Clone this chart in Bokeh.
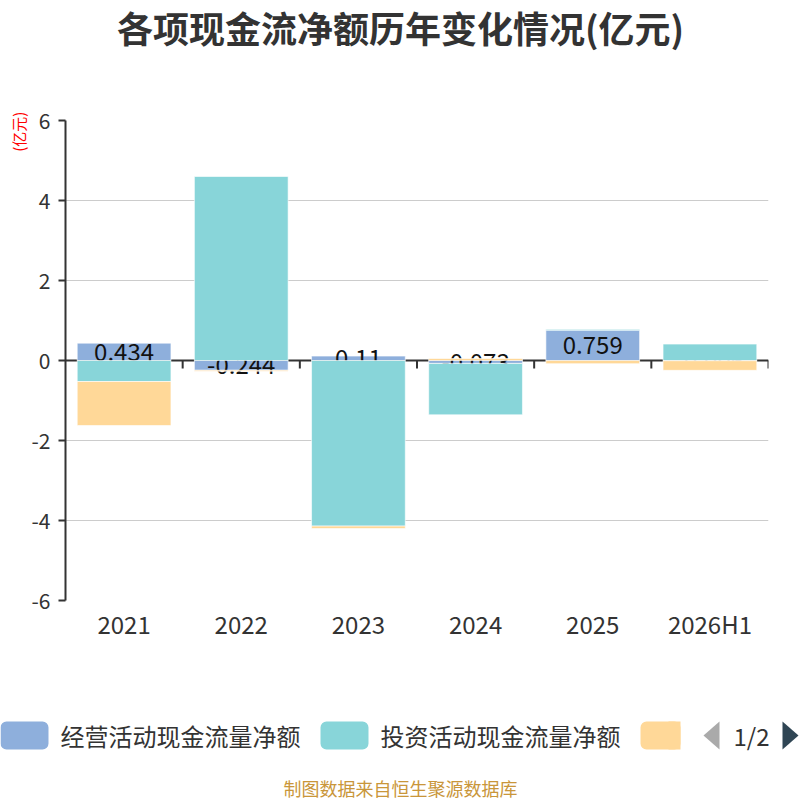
import numpy as np
from bokeh.plotting import figure
from bokeh.models import FactorRange, Range1d, FixedTicker
from bokeh.embed import file_html
from bokeh.resources import INLINE
from bokeh.core.properties import value

title_text = "各项现金流净额历年变化情况(亿元)"
unit_text = "(亿元)"
source_text = "制图数据来自恒生聚源数据库"
categories = ["2021", "2022", "2023", "2024", "2025", "2026H1"]
series_names = ["经营活动现金流量净额", "投资活动现金流量净额", "筹资活动现金流量净额"]
operating = [0.434, -0.244, 0.11, -0.073, 0.759, -0.006]
investing = [-0.525, 4.6, -4.14, -1.285, 0.02, 0.41]
financing = [-1.1, -0.025, -0.06, 0.05, -0.08, -0.24]
y_ticks = [-6, -4, -2, 0, 2, 4, 6]
colors = ["#8EAFDC", "#88D5D9", "#FFD898"]

FONT = "Noto Sans CJK SC"
W = 800

# same-sign stacking
series = [np.array(operating), np.array(investing), np.array(financing)]
pos = np.zeros(len(categories))
neg = np.zeros(len(categories))
stacks = []
for s in series:
    bottom = np.where(s >= 0, pos, neg)
    top = bottom + s
    pos = np.where(s >= 0, top, pos)
    neg = np.where(s < 0, top, neg)
    stacks.append((bottom, top))

# ---- title figure
ft = figure(width=W, height=60, x_range=Range1d(0, W), y_range=Range1d(60, 0),
            output_backend="svg", toolbar_location=None, min_border=0)
ft.axis.visible = False
ft.grid.visible = False
ft.outline_line_color = None
ft.text(x=[400], y=[26], text=[title_text], text_font=value(FONT), text_font_style="bold",
        text_font_size="36px", text_color="#333333", text_align="center", text_baseline="middle")

# ---- main chart
p = figure(width=W, height=588, x_range=FactorRange(*categories), y_range=Range1d(-6, 6),
           output_backend="svg", toolbar_location=None,
           min_border_left=65, min_border_right=32, min_border_top=60, min_border_bottom=48)
p.outline_line_color = None
p.xgrid.visible = False
p.ygrid.grid_line_color = "#cccccc"
p.ygrid.grid_line_width = 1
p.yaxis.ticker = FixedTicker(ticks=y_ticks)
p.yaxis.major_label_overrides = {t: str(t) for t in y_ticks}
p.yaxis.axis_line_color = "#333333"
p.yaxis.axis_line_width = 2
p.yaxis.major_tick_line_color = "#333333"
p.yaxis.major_tick_line_width = 2
p.yaxis.major_tick_out = 7
p.yaxis.major_tick_in = 0
p.yaxis.minor_tick_line_color = None
p.yaxis.major_label_text_font = FONT
p.yaxis.major_label_text_font_size = "21px"
p.yaxis.major_label_text_color = "#333333"
p.yaxis.major_label_standoff = 8
p.yaxis.axis_label = unit_text + "\u3000\u2002"
p.yaxis.axis_label_text_color = "red"
p.yaxis.axis_label_text_font = FONT
p.yaxis.axis_label_text_font_size = "15px"
p.yaxis.axis_label_text_font_style = "normal"
p.yaxis.axis_label_standoff = 0
p.yaxis.axis_label_align = "end"
p.xaxis.axis_line_color = None
p.xaxis.major_tick_line_color = None
p.xaxis.major_tick_out = 0
p.xaxis.major_tick_in = 0
p.xaxis.minor_tick_line_color = None
p.xaxis.major_label_text_font = FONT
p.xaxis.major_label_text_font_size = "24px"
p.xaxis.major_label_text_color = "#333333"
p.xaxis.major_label_standoff = 5

n = len(categories)
# zero axis line with boundary ticks
p.segment(x0=[0], x1=[n], y0=[0], y1=[0], line_color="#333333", line_width=2)
bx = list(np.arange(1, n + 1))
p.segment(x0=bx, x1=bx, y0=[0] * n, y1=[-0.2] * n, line_color="#333333", line_width=2)

b0, t0 = stacks[0]
p.vbar(x=categories, bottom=b0, top=t0, width=0.8, fill_color=colors[0],
       line_color="white", line_alpha=0.6, line_width=1)
p.text(x=categories, y=(b0 + t0) / 2, text=[str(v) for v in operating],
       text_font=value(FONT), text_font_size="24px", text_color="#111111",
       text_align="center", text_baseline="middle")
for (b, t), c in zip(stacks[1:], colors[1:]):
    p.vbar(x=categories, bottom=b, top=t, width=0.8, fill_color=c,
           line_color="white", line_alpha=0.6, line_width=1)

# ---- legend figure
fl = figure(width=W, height=152, x_range=Range1d(0, W), y_range=Range1d(152, 0),
            output_backend="svg", toolbar_location=None, min_border=0)
fl.axis.visible = False
fl.grid.visible = False
fl.outline_line_color = None
fl.quad(left=[0, 320, 640], right=[48, 368, 680], top=[73, 73, 73], bottom=[101, 101, 101],
        fill_color=colors, line_color=None, border_radius=6)
fl.quad(left=[668], right=[680], top=[73], bottom=[101], fill_color=colors[2], line_color=None)
fl.text(x=[60, 380], y=[87, 87], text=series_names[:2], text_font=value(FONT),
        text_font_size="24px", text_color="#333333", text_align="left", text_baseline="middle")
fl.patch(x=[719, 703, 719], y=[73, 87, 101], fill_color="#aaaaaa", line_color=None)
fl.text(x=[751], y=[87], text=["1/2"], text_font=value(FONT), text_font_size="24px",
        text_color="#333333", text_align="center", text_baseline="middle")
fl.patch(x=[782, 798, 782], y=[73, 87, 101], fill_color="#2f4554", line_color=None)
fl.text(x=[400], y=[139], text=[source_text], text_font=value(FONT), text_font_size="18px",
        text_color="#C9963A", text_align="center", text_baseline="middle")

open("out.html", "w").write(file_html([ft, p, fl], INLINE))
